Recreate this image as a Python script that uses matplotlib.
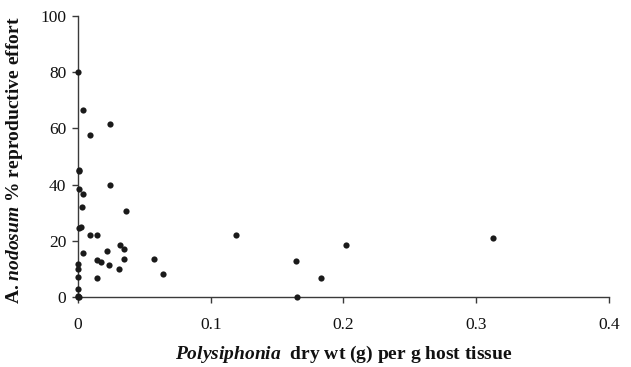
import matplotlib
matplotlib.use("Agg")
import matplotlib.pyplot as plt

# ── data ────────────────────────────────────────────────────────────────────
polysiphonia = [0.000, 0.004, 0.024, 0.009, 0.001, 0.001, 0.024, 0.001, 0.004,
                0.003, 0.036, 0.001, 0.002, 0.009, 0.014, 0.119, 0.313, 0.202,
                0.032, 0.035, 0.022, 0.004, 0.014, 0.017, 0.035, 0.057, 0.164,
                0.000, 0.023, 0.000, 0.031, 0.064, 0.000, 0.014, 0.183, 0.000,
                0.000, 0.001, 0.000, 0.165]
repro_effort = [80.0, 66.5, 61.5, 57.7, 45.1, 44.7, 39.9, 38.3, 36.8,
                32.1, 30.7, 24.7, 25.0, 21.9, 22.0, 22.2, 20.9, 18.6,
                18.4, 17.1, 16.4, 15.5, 13.3, 12.6, 13.4, 13.4, 12.9,
                11.6, 11.5, 9.8, 10.0, 8.3, 7.2, 6.9, 6.8, 2.7,
                0.0, 0.0, 0.3, 0.0]

x_ticks = [0, 0.1, 0.2, 0.3, 0.4]
x_ticklabels = ["0", "0.1", "0.2", "0.3", "0.4"]
y_ticks = [0, 20, 40, 60, 80, 100]

# ── styling: Times-like serif, bold italic for species names ───────────────
plt.rcParams['font.family'] = 'Liberation Serif'
plt.rcParams['mathtext.fontset'] = 'custom'
plt.rcParams['mathtext.rm'] = 'Liberation Serif:bold'
plt.rcParams['mathtext.it'] = 'Liberation Serif:bold:italic'
plt.rcParams['mathtext.bf'] = 'Liberation Serif:bold'

fig = plt.figure(figsize=(6.31, 3.67), dpi=100, facecolor='white')
ax = fig.add_axes([0.1236, 0.1907, 0.8414, 0.7657])

ax.scatter(polysiphonia, repro_effort, s=20, color='#1a1a1a', zorder=5,
           clip_on=False, linewidths=0)

ax.set_xlim(0, 0.4)
ax.set_ylim(0, 100)
ax.set_xticks(x_ticks)
ax.set_xticklabels(x_ticklabels)
ax.set_yticks(y_ticks)

for side in ['top', 'right']:
    ax.spines[side].set_visible(False)
for side in ['left', 'bottom']:
    ax.spines[side].set_color('#3a3a3a')
    ax.spines[side].set_linewidth(1.0)

ax.tick_params(axis='both', direction='out', length=4.3, width=1.0,
               color='#3a3a3a', labelsize=12.5, labelcolor='#111111')
ax.tick_params(axis='x', pad=10)
ax.tick_params(axis='y', pad=4)

ax.set_xlabel(r"$\mathit{Polysiphonia}$  dry wt (g) per g host tissue",
              fontsize=14, fontweight='bold', labelpad=8, color='#111111')
ax.set_ylabel(r"A. $\mathit{nodosum}\ \mathit{\%}$ reproductive effort",
              fontsize=14, fontweight='bold', color='#111111')
ax.yaxis.set_label_coords(-0.0998, 0.486)

fig.savefig("out.png", dpi=100, facecolor='white')
